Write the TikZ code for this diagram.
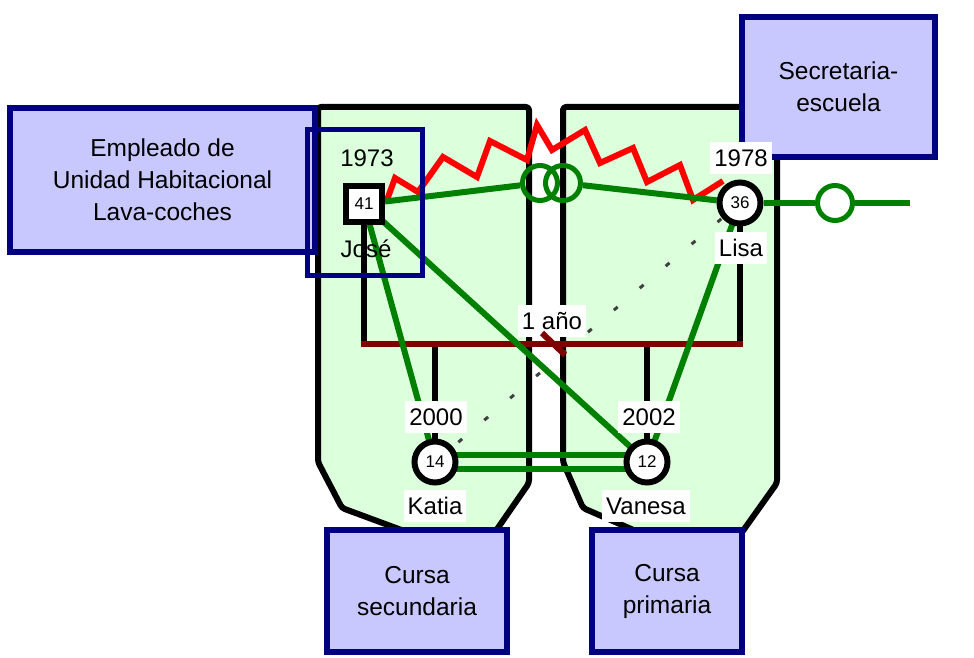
\documentclass[tikz,border=0pt]{standalone}
\usepackage{fontspec}
\setmainfont{Liberation Sans}
\definecolor{gfill}{RGB}{220,255,220}
\definecolor{ggreen}{RGB}{0,128,0}
\definecolor{bfill}{RGB}{200,200,255}
\definecolor{navy}{RGB}{0,0,128}
\definecolor{dred}{RGB}{128,0,0}
\definecolor{dgray}{RGB}{64,64,64}
\pgfdeclarelayer{back}
\pgfdeclarelayer{mid}
\pgfsetlayers{back,mid,main}
\begin{document}
\begin{tikzpicture}[x=1pt,y=-1pt,
  font=\fontsize{24}{32}\selectfont,
  region/.style={fill=gfill,draw=black,line width=6pt,line join=round},
  infobox/.style={rectangle,fill=bfill,draw=navy,line width=6pt,align=center,font=\fontsize{24.5}{32}\selectfont},
  sqperson/.style={rectangle,draw=black,fill=white,line width=6pt,minimum size=36pt,inner sep=0pt,font=\fontsize{17}{18}\selectfont},
  person/.style={circle,draw=black,fill=white,line width=6pt,minimum size=41pt,inner sep=0pt,font=\fontsize{17}{18}\selectfont},
  ring/.style={circle,draw=ggreen,line width=5pt,minimum size=35pt,inner sep=0pt},
  lbl/.style={fill=white,inner xsep=4pt,inner ysep=0pt,minimum height=32pt},
  plainlbl/.style={inner sep=0pt},
  kin/.style={draw=black,line width=6pt},
  marr/.style={draw=dred,line width=6pt},
  tie/.style={draw=ggreen,line width=6pt},
  conflict/.style={draw=red,line width=6pt,line join=miter},
  distant/.style={draw=dgray,line width=3pt,dash pattern=on 5pt off 29pt,dash phase=9.5pt}
]
\useasboundingbox (0,0) rectangle (974,658);

% persons
\node[sqperson] (jose) at (364,204) {41};
\node[person] (lisa) at (740,203) {36};
\node[person] (katia) at (435,462) {14};
\node[person] (vanesa) at (647,462) {12};
\node[ring] (r1) at (540,183) {};
\node[ring] (r2) at (563,183) {};
\node[ring] (r3) at (835,203) {};
\coordinate (tail) at (910,203);
\coordinate (mL) at (364,344);
\coordinate (mR) at (740,344);
\coordinate (s1) at (542,333);
\coordinate (s2) at (565,355);

% labels
\node[plainlbl] (y1973) at (367,158) {1973};
\node[plainlbl] (njose) at (366,249) {José};
\node[lbl] (y1978) at (741,158) {1978};
\node[lbl] (nlisa) at (741,248) {Lisa};
\node[lbl] (y2000) at (436,417) {2000};
\node[lbl] (nkatia) at (435,506) {Katia};
\node[lbl] (y2002) at (649,417) {2002};
\node[lbl] (nvanesa) at (646,506) {Vanesa};
\node[lbl] (sep) at (552,321) {1 año};
\draw[marr] (s1) -- (s2);

% frame round José
\node[draw=navy,line width=5pt,minimum width=115pt,minimum height=145pt,inner sep=0pt] (frame) at (364.5,202.5) {};

\begin{pgfonlayer}{back}
\draw[region,rounded corners=3pt] (318,107) -- (529,107) -- (529,483) -- (493,535) -- (415,535) -- (342,508) -- (318,462) -- cycle;
\draw[region,rounded corners=3pt] (563,107) -- (777,107) -- (777,483) -- (740,535) -- (645,535) -- (583,508) -- (563,462) -- cycle;
\node[infobox,minimum width=305pt,minimum height=144pt] (emp) at (162.5,180) {Empleado de\\Unidad Habitacional\\Lava-coches};
\node[infobox,minimum width=193pt,minimum height=140pt] (sec) at (838.5,87) {Secretaria-\\escuela};
\node[infobox,minimum width=180pt,minimum height=122pt] (cs) at (417,591) {Cursa\\secundaria};
\node[infobox,minimum width=150pt,minimum height=122pt] (cp) at (667,591) {Cursa\\primaria};
\end{pgfonlayer}

\begin{pgfonlayer}{mid}
\draw[kin] (jose.center) -- (mL);
\draw[kin] (lisa.center) -- (mR);
\draw[kin] (katia.center) -- (katia.center |- mL);
\draw[kin] (vanesa.center) -- (vanesa.center |- mL);
\draw[marr] ([xshift=-3pt]mL) -- ([xshift=3pt]mR);
\draw[conflict] (387,200) -- (395,178) -- (418,192) -- (443,157) -- (477,177) -- (490,141) -- (527,160) -- (537,125) -- (552,150) -- (585,130) -- (600,163) -- (633,148) -- (647,182) -- (680,165) -- (693,200) -- (723,181);
\draw[tie] (jose) -- (r1);
\draw[tie] (r2) -- (lisa);
\draw[tie] (lisa) -- (r3);
\draw[tie] (r3) -- (tail);
\draw[tie] (jose.center) -- (katia.center);
\draw[tie] (jose.center) -- (vanesa.center);
\draw[tie] (lisa.center) -- (vanesa.center);
\draw[tie] ([yshift=7pt]katia.center) -- ([yshift=7pt]vanesa.center);
\draw[tie] ([yshift=-7pt]katia.center) -- ([yshift=-7pt]vanesa.center);
\draw[distant] (lisa.center) -- (katia.center);
\end{pgfonlayer}
\end{tikzpicture}
\end{document}
